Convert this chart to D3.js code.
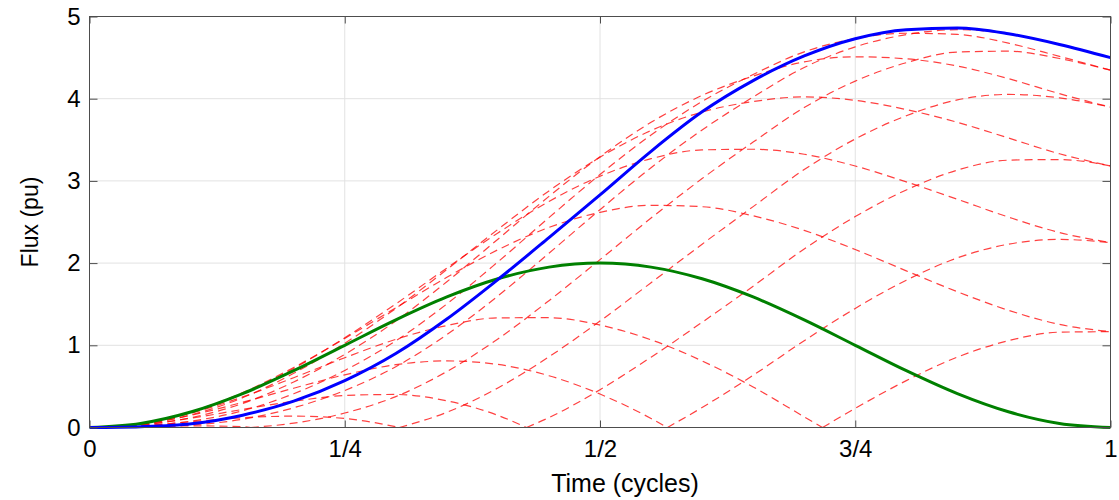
<!DOCTYPE html>
<html>
<head>
<meta charset="utf-8">
<script src="https://cdn.jsdelivr.net/npm/d3@7"></script>
<style>
  body { margin: 0; background: #fff; }
  svg text { font-family: "Liberation Sans", Arial, sans-serif; }
</style>
</head>
<body>
<div id="chart"></div>
<script>
// time in cycles, sampled every 1/20 cycle
const tCycles = [0, 0.05, 0.1, 0.15, 0.2, 0.25, 0.3, 0.35, 0.4, 0.45, 0.5,
                 0.55, 0.6, 0.65, 0.7, 0.75, 0.8, 0.85, 0.9, 0.95, 1];
const xTickVals = [0, 0.25, 0.5, 0.75, 1];
const xTickLabels = ["0", "1/4", "1/2", "3/4", "1"];
const yTickVals = [0, 1, 2, 3, 4, 5];

// solid curves (values at tCycles)
const greenFlux = [0, 0.049, 0.191, 0.412, 0.691, 1, 1.309, 1.588, 1.809, 1.951, 2,
                   1.951, 1.809, 1.588, 1.309, 1, 0.691, 0.412, 0.191, 0.049, 0];
const blueFlux = [0, 0.01, 0.045, 0.15, 0.32, 0.57, 0.9, 1.32, 1.8, 2.31, 2.83,
                  3.36, 3.84, 4.22, 4.52, 4.73, 4.84, 4.86, 4.79, 4.66, 4.5];

// dashed curves rising above the green one (values at tCycles)
const redUp15 = [0, 0.048, 0.193, 0.424, 0.73, 1.083, 1.456, 1.827, 2.162, 2.434, 2.618,
                 2.703, 2.686, 2.575, 2.398, 2.165, 1.906, 1.652, 1.426, 1.254, 1.166];
const redUp30 = [0, 0.045, 0.18, 0.407, 0.718, 1.091, 1.504, 1.94, 2.367, 2.75, 3.057,
                 3.27, 3.377, 3.385, 3.324, 3.181, 2.988, 2.777, 2.56, 2.372, 2.25];
const redUp45 = [0, 0.039, 0.156, 0.362, 0.659, 1.025, 1.448, 1.922, 2.41, 2.878, 3.288,
                 3.613, 3.838, 3.965, 4.022, 3.98, 3.868, 3.713, 3.522, 3.33, 3.182];
const redUp60 = [0, 0.029, 0.122, 0.293, 0.554, 0.89, 1.296, 1.773, 2.291, 2.812, 3.295,
                 3.713, 4.04, 4.275, 4.448, 4.51, 4.485, 4.397, 4.244, 4.061, 3.897];
const redUp75 = [0, 0.018, 0.078, 0.204, 0.411, 0.694, 1.054, 1.503, 2.015, 2.553, 3.078,
                 3.558, 3.966, 4.294, 4.57, 4.732, 4.796, 4.782, 4.676, 4.515, 4.347];
// the dashed one running just under the blue curve
const redUp90 = [0, 0.005, 0.03, 0.1, 0.24, 0.45, 0.74, 1.13, 1.6, 2.12, 2.65,
                 3.16, 3.62, 4.02, 4.38, 4.63, 4.78, 4.84, 4.79, 4.66, 4.5];

// dashed curves that dip to zero and come back ([t, flux] pairs)
const redDown15 = [[0, 0], [0.05, 0.046], [0.1, 0.177], [0.15, 0.372], [0.2, 0.606], [0.25, 0.849],
  [0.3, 1.072], [0.35, 1.241], [0.4, 1.334], [0.45, 1.336], [0.5, 1.246], [0.55, 1.067],
  [0.6, 0.81], [0.65, 0.493], [0.7, 0.13], [0.718, 0], [0.75, 0.233], [0.8, 0.57],
  [0.85, 0.856], [0.9, 1.056], [0.95, 1.16], [1, 1.166]];
const redDown30 = [[0, 0], [0.05, 0.039], [0.1, 0.15], [0.15, 0.307], [0.2, 0.478], [0.25, 0.641],
  [0.3, 0.764], [0.35, 0.81], [0.4, 0.767], [0.45, 0.63], [0.5, 0.407], [0.55, 0.11],
  [0.566, 0], [0.6, 0.243], [0.65, 0.635], [0.7, 1.056], [0.75, 1.449], [0.8, 1.792],
  [0.85, 2.063], [0.9, 2.23], [0.95, 2.288], [1, 2.25]];
const redDown45 = [[0, 0], [0.05, 0.031], [0.1, 0.114], [0.15, 0.22], [0.2, 0.319], [0.25, 0.389],
  [0.3, 0.402], [0.35, 0.324], [0.4, 0.148], [0.428, 0], [0.45, 0.12], [0.5, 0.46],
  [0.55, 0.855], [0.6, 1.28], [0.65, 1.719], [0.7, 2.172], [0.75, 2.566], [0.8, 2.89],
  [0.85, 3.131], [0.9, 3.252], [0.95, 3.26], [1, 3.182]];
const redDown60 = [[0, 0], [0.05, 0.021], [0.1, 0.07], [0.15, 0.119], [0.2, 0.138], [0.25, 0.11],
  [0.3035, 0], [0.35, 0.185], [0.4, 0.481], [0.45, 0.86], [0.5, 1.295], [0.55, 1.761],
  [0.6, 2.23], [0.65, 2.687], [0.7, 3.138], [0.75, 3.51], [0.8, 3.793], [0.85, 3.985],
  [0.9, 4.052], [0.95, 4.011], [1, 3.897]];
const redDown75 = [[0, 0], [0.05, 0.008], [0.1, 0.02], [0.15, 0.01], [0.158, 0], [0.2, 0.053],
  [0.25, 0.176], [0.3, 0.376], [0.35, 0.681], [0.4, 1.077], [0.45, 1.543], [0.5, 2.042],
  [0.55, 2.548], [0.6, 3.028], [0.65, 3.472], [0.7, 3.892], [0.75, 4.214], [0.8, 4.438],
  [0.85, 4.568], [0.9, 4.578], [0.95, 4.489], [1, 4.347]];

const width = 1119, height = 500;
const margin = { top: 16.5, right: 8.5, bottom: 72.5, left: 89.5 };

const x = d3.scaleLinear().domain([0, 1]).range([margin.left, width - margin.right]);
const y = d3.scaleLinear().domain([0, 5]).range([height - margin.bottom, margin.top]);

const svg = d3.select("#chart").append("svg")
  .attr("width", width).attr("height", height);

svg.append("defs").append("clipPath").attr("id", "plotclip")
  .append("rect")
  .attr("x", margin.left).attr("y", margin.top - 2)
  .attr("width", x(1) - x(0)).attr("height", y(0) - y(5) + 4);

// grid
const grid = svg.append("g").attr("stroke", "#e2e2e2").attr("stroke-width", 1);
grid.selectAll(".gx").data(xTickVals.slice(1, -1)).join("line")
  .attr("x1", d => x(d)).attr("x2", d => x(d))
  .attr("y1", y(0)).attr("y2", y(5));
grid.selectAll(".gy").data(yTickVals.slice(1, -1)).join("line")
  .attr("x1", x(0)).attr("x2", x(1))
  .attr("y1", d => y(d)).attr("y2", d => y(d));

// curves
const plot = svg.append("g").attr("clip-path", "url(#plotclip)");
const line = d3.line().x(d => x(d[0])).y(d => y(d[1])).curve(d3.curveMonotoneX);

// split a curve at the points where it touches zero so the corners stay sharp
function pieces(pts) {
  const out = [];
  let cur = [pts[0]];
  for (let i = 1; i < pts.length; i++) {
    cur.push(pts[i]);
    if (pts[i][1] === 0 && i < pts.length - 1) {
      out.push(cur);
      cur = [pts[i]];
    }
  }
  out.push(cur);
  return out;
}

const upCurves = [redUp15, redUp30, redUp45, redUp60, redUp75, redUp90]
  .map(vals => vals.map((v, i) => [tCycles[i], v]));
const downCurves = [redDown15, redDown30, redDown45, redDown60, redDown75];

const redPieces = [];
upCurves.concat(downCurves).forEach(c => pieces(c).forEach(p => redPieces.push(p)));

plot.selectAll(".red").data(redPieces).join("path")
  .attr("fill", "none")
  .attr("stroke", "#ff0000")
  .attr("stroke-opacity", 0.75)
  .attr("stroke-width", 1.2)
  .attr("stroke-dasharray", "8,5")
  .attr("d", line);

plot.append("path")
  .datum(greenFlux.map((v, i) => [tCycles[i], v]))
  .attr("fill", "none").attr("stroke", "#008000").attr("stroke-width", 3)
  .attr("d", line);

plot.append("path")
  .datum(blueFlux.map((v, i) => [tCycles[i], v]))
  .attr("fill", "none").attr("stroke", "#0000ff").attr("stroke-width", 3)
  .attr("d", line);

// axes, ticks pointing inward on all four sides
const axisColor = "#4d4d4d";

const xAxis = svg.append("g")
  .attr("transform", `translate(0,${y(0)})`)
  .call(d3.axisBottom(x).tickValues(xTickVals)
    .tickFormat((d, i) => xTickLabels[i])
    .tickSizeInner(-7).tickSizeOuter(0).tickPadding(12));
const yAxis = svg.append("g")
  .attr("transform", `translate(${x(0)},0)`)
  .call(d3.axisLeft(y).tickValues(yTickVals).tickFormat(d3.format("d"))
    .tickSizeInner(-8).tickSizeOuter(0).tickPadding(9));
const xTop = svg.append("g")
  .attr("transform", `translate(0,${y(5)})`)
  .call(d3.axisTop(x).tickValues(xTickVals).tickFormat("").tickSizeInner(-7).tickSizeOuter(0));
const yRight = svg.append("g")
  .attr("transform", `translate(${x(1)},0)`)
  .call(d3.axisRight(y).tickValues(yTickVals).tickFormat("").tickSizeInner(-8).tickSizeOuter(0));

[xAxis, yAxis, xTop, yRight].forEach(g => {
  g.select(".domain").remove();
  g.selectAll(".tick line").attr("stroke", axisColor);
  g.selectAll(".tick text").attr("fill", "#000").attr("font-size", "24px");
});

svg.append("rect")
  .attr("x", x(0)).attr("y", y(5))
  .attr("width", x(1) - x(0)).attr("height", y(0) - y(5))
  .attr("fill", "none").attr("stroke", axisColor).attr("stroke-width", 1);

// axis titles
svg.append("text")
  .attr("x", 625).attr("y", 492)
  .attr("text-anchor", "middle").attr("font-size", "25px").attr("fill", "#000")
  .text("Time (cycles)");

svg.append("text")
  .attr("transform", `translate(38,${(y(0) + y(5)) / 2}) rotate(-90)`)
  .attr("text-anchor", "middle").attr("font-size", "23px").attr("fill", "#000")
  .text("Flux (pu)");
</script>
</body>
</html>
